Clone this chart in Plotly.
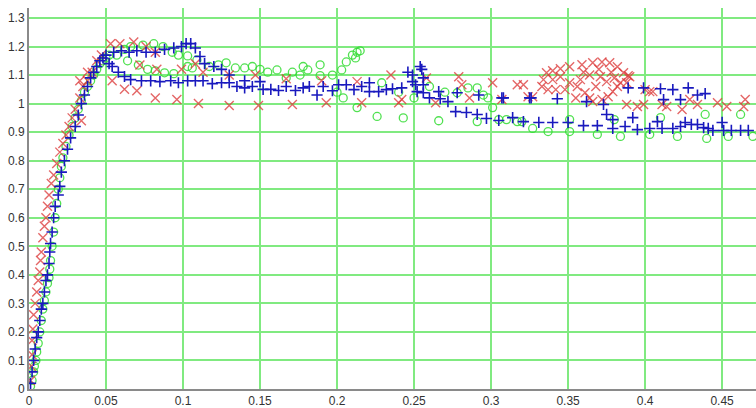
import plotly.graph_objects as go

# ---- data ----
red_x = [0.001,0.0015,0.002,0.002,0.0025,0.003,0.004,0.005,0.006,0.007,0.0075,0.008,0.009,0.010,0.011,0.012,0.013,0.0145,0.016,0.018,0.02,0.022,0.024,0.026,0.028,0.030,0.033,0.035,0.038,0.041,0.044,0.047,
         0.034,0.038,0.033,
         0.053,0.059,0.068,0.076,0.082,
         0.054,0.062,0.070,0.082,0.096,0.11,0.13,0.149,0.171,0.193,0.216,0.24,
         0.072,0.083,0.099,0.108,0.113,0.13,0.147,0.167,0.19,0.213,0.235,0.242,0.258,0.264,0.279,0.281,0.286,0.301,0.307,0.317,0.321,
         0.324,0.327,0.333,0.334,0.336,0.34,0.345,0.351,0.359,0.366,0.372,0.377,0.382,0.386,0.389,
         0.337,0.342,0.348,0.355,0.361,0.364,0.366,0.372,0.376,0.379,0.382,0.384,0.388,
         0.34,0.345,0.351,0.358,0.364,0.371,0.375,0.38,0.39,0.356,0.368,0.36,0.37,0.378,
         0.388,0.395,0.399,0.4,0.403,0.405,0.411,0.414,0.424,0.429,0.434,0.447,0.453,0.464,0.465]
red_y = [0.03,0.08,0.12,0.17,0.21,0.26,0.30,0.34,0.38,0.41,0.45,0.48,0.53,0.57,0.60,0.64,0.68,0.72,0.75,0.79,0.83,0.86,0.89,0.92,0.95,0.98,1.02,1.06,1.08,1.11,1.15,1.17,
         0.94,1.11,1.08,
         1.21,1.21,1.216,1.2,1.18,
         1.08,1.05,1.045,1.02,1.014,1.0,0.993,0.993,0.997,1.003,1.003,1.003,
         1.135,1.12,1.12,1.14,1.11,1.10,1.10,1.087,1.08,1.077,1.10,1.014,1.09,1.003,1.094,1.066,1.02,1.073,1.014,1.066,1.066,
         1.024,1.024,1.06,1.084,1.108,1.115,1.122,1.129,1.136,1.143,1.146,1.143,1.129,1.108,1.098,
         1.049,1.049,1.049,1.02,1.038,1.02,1.007,1.014,1.024,1.042,1.06,1.073,1.073,
         1.084,1.094,1.073,1.084,1.1,1.094,1.077,1.09,1.094,1.06,1.06,1.11,1.12,1.11,
         0.997,0.99,0.997,1.049,1.042,1.042,0.997,0.99,0.979,1.014,0.997,1.003,0.99,0.99,1.014]

blue_x = [0.001,0.002,0.003,0.004,0.005,0.006,0.007,0.008,0.009,0.010,0.011,0.012,0.013,0.0135,0.014,0.015,0.016,0.017,0.019,0.02,0.021,0.023,0.025,0.027,0.03,0.032,0.034,0.036,0.038,0.04,0.042,0.044,0.046,0.048,
          0.05,0.055,0.06,0.065,0.07,0.076,0.082,0.088,0.094,0.099,0.102,0.105,0.108,0.111,0.114,0.12,0.125,0.13,
          0.052,0.054,0.058,0.062,0.066,0.073,0.079,0.085,0.092,0.097,0.103,0.108,0.113,0.119,0.125,0.13,0.135,0.14,0.14,0.145,0.15,0.152,0.157,0.162,0.167,0.173,0.178,0.182,0.187,0.191,0.197,0.201,0.206,0.211,0.216,0.221,0.221,0.227,0.232,0.236,0.242,
          0.246,0.249,0.254,0.255,0.249,0.256,0.251,0.256,0.252,0.256,0.26,0.266,0.267,0.272,0.278,0.277,0.284,0.291,0.292,0.297,0.305,0.307,0.308,0.314,0.321,0.325,0.326,0.331,0.34,0.343,0.35,0.36,0.362,0.369,0.373,0.375,0.379,0.379,0.387,0.389,
          0.392,0.395,0.399,0.403,0.408,0.41,0.411,0.412,0.418,0.418,0.423,0.423,0.426,0.428,0.43,0.434,0.434,0.438,0.439,0.441,0.444,0.45,0.451,0.456,0.462,0.467]
blue_y = [0.02,0.06,0.1,0.14,0.18,0.2,0.24,0.28,0.3,0.34,0.38,0.4,0.44,0.48,0.51,0.55,0.6,0.64,0.68,0.71,0.76,0.8,0.84,0.88,0.92,0.96,1.0,1.03,1.06,1.09,1.11,1.13,1.15,1.16,
          1.17,1.18,1.185,1.18,1.185,1.18,1.18,1.19,1.195,1.2,1.21,1.21,1.195,1.165,1.14,1.13,1.12,1.10,
          1.14,1.13,1.11,1.095,1.084,1.08,1.08,1.077,1.08,1.073,1.08,1.08,1.08,1.07,1.073,1.073,1.06,1.055,1.08,1.06,1.077,1.05,1.05,1.046,1.06,1.046,1.055,1.06,1.03,1.06,1.045,1.066,1.066,1.049,1.06,1.073,1.042,1.042,1.049,1.052,1.055,
          1.11,1.1,1.13,1.12,1.077,1.09,1.066,1.066,1.042,1.038,1.02,1.042,1.017,1.007,1.038,0.972,0.969,0.962,1.03,0.948,0.941,1.02,1.02,0.951,0.937,1.02,1.02,0.934,0.934,1.017,0.934,0.923,1.007,0.923,0.997,0.962,0.944,0.913,0.92,1.055,
          0.951,0.909,1.055,0.913,0.937,1.052,0.913,1.014,1.049,0.913,1.014,0.92,0.934,1.055,0.927,1.03,0.927,0.916,1.035,0.913,0.906,0.934,0.906,0.906,0.906,0.906]

green_x = [0.001,0.002,0.003,0.0035,0.0045,0.005,0.006,0.007,0.008,0.009,0.010,0.011,0.012,0.013,0.0135,0.014,0.015,0.016,0.017,0.018,0.019,0.02,0.021,0.022,0.024,0.026,0.028,0.03,0.032,0.034,0.036,0.038,0.04,0.042,0.044,0.046,0.048,0.05,0.052,
           0.057,0.062,0.066,0.074,0.081,0.087,0.093,0.097,0.103,0.064,0.071,0.077,0.082,0.088,0.094,0.103,0.106,0.109,
           0.117,0.123,0.128,0.134,0.14,0.145,0.15,0.155,0.161,0.167,0.171,0.176,0.178,0.181,0.189,0.189,0.197,0.2,0.203,0.204,0.206,0.21,0.213,0.215,0.212,0.213,0.226,0.229,
           0.24,0.243,0.25,0.26,0.266,0.27,0.278,0.285,0.291,0.291,0.295,0.298,0.301,0.305,0.31,0.317,0.32,0.327,0.337,0.351,0.351,0.369,0.38,0.384,0.403,0.41,0.421,0.439,0.44,0.454,0.462,0.47]
green_y = [0.01,0.03,0.06,0.08,0.1,0.13,0.16,0.2,0.24,0.28,0.31,0.34,0.37,0.39,0.42,0.45,0.5,0.55,0.6,0.65,0.7,0.74,0.78,0.81,0.85,0.89,0.92,0.95,0.98,1.01,1.04,1.06,1.08,1.1,1.12,1.14,1.15,1.16,1.17,
           1.17,1.19,1.2,1.205,1.21,1.2,1.18,1.17,1.167,1.15,1.135,1.12,1.115,1.108,1.105,1.13,1.125,1.153,
           1.13,1.136,1.143,1.125,1.125,1.13,1.12,1.11,1.118,1.09,1.11,1.1,1.13,1.118,1.136,1.098,1.1,1.04,1.118,1.02,1.146,1.17,1.18,1.185,1.16,0.986,0.955,1.073,
           1.04,0.95,1.02,1.06,0.94,1.04,1.038,1.055,1.055,0.937,1.03,1.02,0.986,0.944,0.944,0.937,0.937,0.913,0.902,0.944,0.902,0.892,0.944,0.885,0.892,0.951,0.885,0.962,0.878,0.885,0.962,0.885]

x_ticks = [0, 0.05, 0.1, 0.15, 0.2, 0.25, 0.3, 0.35, 0.4, 0.45]
x_labels = ["0", "0.05", "0.1", "0.15", "0.2", "0.25", "0.3", "0.35", "0.4", "0.45"]
y_ticks = [0, 0.1, 0.2, 0.3, 0.4, 0.5, 0.6, 0.7, 0.8, 0.9, 1.0, 1.1, 1.2, 1.3]
y_labels = ["0", "0.1", "0.2", "0.3", "0.4", "0.5", "0.6", "0.7", "0.8", "0.9", "1", "1.1", "1.2", "1.3"]

fig = go.Figure()
fig.add_trace(go.Scatter(x=green_x, y=green_y, mode="markers", name="green",
                         marker=dict(symbol="circle-open", size=8, color="rgba(50,220,50,0.85)", line=dict(width=1.3))))
fig.add_trace(go.Scatter(x=red_x, y=red_y, mode="markers", name="red",
                         marker=dict(symbol="x-thin-open", size=9, color="rgba(220,60,60,0.78)", line=dict(width=1.4))))
fig.add_trace(go.Scatter(x=blue_x, y=blue_y, mode="markers", name="blue",
                         marker=dict(symbol="cross-thin-open", size=8, color="rgb(25,25,190)", line=dict(width=1.6))))

fig.update_layout(
    width=756, height=408,
    margin=dict(l=29, r=0, t=8, b=17),
    paper_bgcolor="white", plot_bgcolor="white",
    showlegend=False,
    font=dict(family="Liberation Sans", size=12, color="#333333"),
)
fig.update_xaxes(range=[0, 0.472], tickvals=x_ticks, ticktext=x_labels,
                 showgrid=True, gridcolor="#80ea80", gridwidth=2,
                 showline=True, linecolor="#8a8a8a", linewidth=2, zeroline=False, ticks="")
fig.update_yaxes(range=[0, 1.335], tickvals=y_ticks, ticktext=y_labels,
                 showgrid=True, gridcolor="#80ea80", gridwidth=2,
                 showline=True, linecolor="#8a8a8a", linewidth=2, zeroline=False, ticks="")

fig.write_html("out.html")
